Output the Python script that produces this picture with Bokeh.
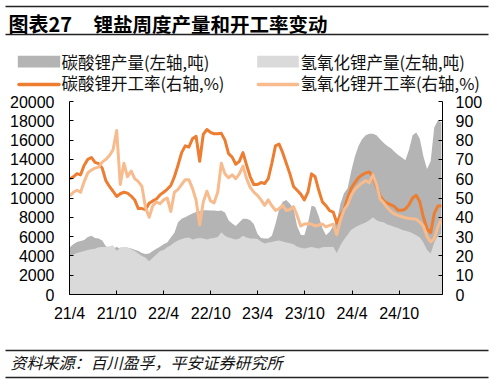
import pandas as pd
from bokeh.plotting import figure
from bokeh.models import Range1d, LinearAxis, FixedTicker
from bokeh.layouts import column
from bokeh.embed import file_html
from bokeh.resources import INLINE
from bokeh.core.properties import value

# ---------------- data (bi-weekly readings) ----------------
start_date = "2021-04-02"
step = "14D"

carb_prod = [4900, 5200, 5440, 5550, 5650, 5950, 6100, 5850, 5800, 5600,
             5000, 4850, 4760, 4930, 4760, 4900, 4850, 4760, 4650, 4500,
             4300, 4200, 4250, 4500, 4750, 4950, 5200, 5400, 5900, 6400,
             7500, 7850, 8000, 8210, 8400, 8550, 8650, 8730, 8730, 8700,
             8700, 8650, 8700, 8500, 7700, 7350, 7100, 7500, 7850, 7850,
             7700, 7300, 6300, 5850, 5800, 5800, 6100, 7300, 8800, 9600,
             9800, 9400, 8900, 7100, 6200, 6150, 7400, 9200, 9100, 8100,
             6900, 6140, 6500, 7100, 7600, 9400, 10500, 11000, 12800, 14300,
             15400, 16100, 16500, 16660, 16660, 16490, 16100, 15700, 15400, 15150,
             14800, 14450, 14200, 13900, 15000, 16500, 16800, 16150, 14300, 13000,
             13800, 17300, 18040, 17860]

hyd_prod = [3900, 4150, 4300, 4400, 4500, 4600, 4700, 4750, 4900, 4930,
            4930, 5000, 5100, 4500, 4900, 4930, 4900, 4700, 4500, 4250,
            4000, 3800, 3450, 3800, 4150, 4500, 4600, 4900, 5100, 5400,
            5600, 5750, 5850, 5900, 5700, 5800, 5850, 5800, 5700, 5800,
            5850, 5950, 6450, 6100, 5900, 5800, 5700, 5800, 6100, 5900,
            5800, 5800, 5750, 5500, 5280, 5400, 5450, 5550, 5600, 5500,
            5400, 5300, 5200, 4950, 4850, 4760, 4850, 4930, 4850, 4760,
            4900, 4930, 4930, 4950, 4300, 5100, 5700, 6200, 6700, 6950,
            7150, 7300, 7450, 7700, 8000, 7700, 7550, 7500, 7250, 7150,
            7000, 6900, 6700, 6600, 6500, 6350, 6150, 5900, 5400, 4600,
            4250, 5400, 6100, 6300]

carb_rate = [60, 61, 62.6, 62, 67, 70, 71, 68.5, 67.8, 65.5,
             59, 56, 53.5, 50.8, 52.2, 53, 52.5, 51, 49, 44.5,
             44.5, 44, 47.3, 48.5, 49.5, 51.6, 53, 54.5, 56.5, 61,
             67, 73.5, 77, 76.4, 80.7, 82, 69, 83, 85.5, 84,
             83.3, 83.3, 83.5, 80, 73, 71.2, 67.5, 69, 73.5, 67,
             61, 57, 57, 58, 57.5, 60, 68, 77, 78, 73.5,
             68, 62.5, 56, 54, 52, 49, 53, 62.5, 61, 54,
             48, 46, 43.5, 42.7, 37, 41, 44, 50, 55, 58,
             60.5, 62, 63, 63.5, 61, 56, 51, 48.5, 47.3, 46.5,
             45.5, 43.6, 43.6, 44.3, 46.5, 50, 51.4, 48, 40, 34,
             32, 42, 45.8, 46]

hyd_rate = [51, 53, 54, 53, 58.5, 63, 64.5, 65.5, 66, 68.6,
            70, 72, 75, 85, 57, 68, 61, 64, 60, 58.5,
            56, 45, 40, 46, 48, 47, 49, 50, 43, 53,
            54.5, 57, 59.5, 59.5, 55, 49, 36, 48, 53.5, 48.5,
            47.5, 53, 68, 62.5, 60.5, 62, 60, 62.5, 66.5, 60,
            55.5, 53, 51.4, 49, 46.2, 49, 46, 43.6, 44.5, 46.2,
            43.5, 44, 45.5, 41, 35.5, 36.5, 36.7, 36.5, 35.5, 36,
            36.5, 35, 35.8, 36.5, 31, 38.5, 43.8, 46.5, 51.4, 54.5,
            56.3, 57.8, 59, 58, 62, 57, 49.5, 47.5, 45, 43,
            41.7, 41, 40.3, 39.8, 39.4, 39.3, 39, 37.5, 35.5, 30,
            27.3, 29, 35, 39]

tick_labels = ["21/4", "21/10", "22/4", "22/10", "23/4", "23/10", "24/4", "24/10"]
left_ticks = [0, 2000, 4000, 6000, 8000, 10000, 12000, 14000, 16000, 18000, 20000]
right_ticks = [0, 10, 20, 30, 40, 50, 60, 70, 80, 90, 100]

legend_labels = ["碳酸锂产量(左轴,吨)", "氢氧化锂产量(左轴,吨)",
                 "碳酸锂开工率(右轴,%)", "氢氧化锂开工率(右轴,%)"]
title_head = "图表27"
title_text = "锂盐周度产量和开工率变动"
source_text = "资料来源：百川盈孚，平安证券研究所"

# ---------------- styles ----------------
C_DARK_GREY = "#B4B4B4"
C_LIGHT_GREY = "#DADADA"
C_ORANGE = "#ED7D31"
C_LIGHT_ORANGE = "#F7BB8E"
C_RULE = "#222222"
CJK = value("Noto Sans CJK SC")
NUM_FONT = "Liberation Sans"
W = 494

origin = pd.Timestamp("2021-04-01")
dates = pd.date_range(start_date, periods=len(carb_prod), freq=step)
xs = [(d - origin).days for d in dates]
tick_pos = []
for t in tick_labels:
    yy, mm = t.split("/")
    tick_pos.append((pd.Timestamp(2000 + int(yy), int(mm), 1) - origin).days)
x_end = xs[-1] + 4

# ---------------- header (title + legend) ----------------
HH = 95
h = figure(width=W, height=HH, x_range=Range1d(0, W), y_range=Range1d(HH, 0),
           output_backend="svg", toolbar_location=None, title=None,
           x_axis_type=None, y_axis_type=None, min_border=0, frame_align=False)
h.outline_line_color = None
h.segment(x0=[5, 5], y0=[6, 34], x1=[488, 488], y1=[6, 34], line_color=C_RULE, line_width=1.7)
h.text(x=[8], y=[22.5], text=[title_head], text_font=CJK, text_font_style="bold",
       text_font_size="20px", text_baseline="middle", text_color="#000000")
h.text(x=[93], y=[22.5], text=[title_text], text_font=CJK, text_font_style="bold",
       text_font_size="19.5px", text_baseline="middle", text_color="#000000")
h.quad(left=[17.3, 256.7], right=[59.7, 298.3], top=[55.3, 55.3], bottom=[67, 67],
       fill_color=[C_DARK_GREY, C_LIGHT_GREY], line_color=None)
h.segment(x0=[18.5], y0=[84], x1=[58.5], y1=[84], line_color=C_ORANGE, line_width=3.5, line_cap="round")
h.segment(x0=[257.9], y0=[84], x1=[297.1], y1=[84], line_color=C_LIGHT_ORANGE, line_width=3.5, line_cap="round")
h.text(x=[61, 300, 61, 300], y=[61.5, 61.5, 82.8, 82.8], text=legend_labels, text_font=CJK,
       text_font_size="16.5px", text_baseline="middle", text_color="#111111")

# ---------------- main chart ----------------
p = figure(width=W, height=235, output_backend="svg", toolbar_location=None, title=None,
           x_range=Range1d(0, x_end), y_range=Range1d(0, 20000), frame_align=False,
           min_border_left=69, min_border_right=52, min_border_top=6, min_border_bottom=36)
p.extra_y_ranges = {"rate": Range1d(0, 100)}
p.outline_line_color = None
p.xgrid.visible = False
p.ygrid.visible = False

p.varea(x=xs, y1=0, y2=carb_prod, fill_color=C_DARK_GREY)
p.varea(x=xs, y1=0, y2=hyd_prod, fill_color=C_LIGHT_GREY)
p.line(xs, carb_rate, y_range_name="rate", line_color=C_ORANGE, line_width=3, line_join="round")
p.line(xs, hyd_rate, y_range_name="rate", line_color=C_LIGHT_ORANGE, line_width=3, line_join="round")

left_axis = p.yaxis[0]
left_axis.ticker = FixedTicker(ticks=left_ticks)
right_axis = LinearAxis(y_range_name="rate", ticker=FixedTicker(ticks=right_ticks))
p.add_layout(right_axis, "right")

p.xaxis.ticker = FixedTicker(ticks=tick_pos)
p.xaxis.major_label_overrides = {k: v for k, v in zip(tick_pos, tick_labels)}

for ax in p.axis:
    ax.major_tick_in = 4
    ax.major_tick_out = 0
    ax.minor_tick_line_color = None
    ax.axis_line_color = "#000000"
    ax.major_tick_line_color = "#000000"
    ax.major_label_text_font = NUM_FONT
    ax.major_label_text_font_size = "16px"
    ax.major_label_text_color = "#000000"
p.xaxis.major_label_standoff = 10
left_axis.major_label_standoff = 15
right_axis.major_label_standoff = 13

# ---------------- footer (source) ----------------
FH = 49
f = figure(width=W, height=FH, x_range=Range1d(0, W), y_range=Range1d(FH, 0),
           output_backend="svg", toolbar_location=None, title=None,
           x_axis_type=None, y_axis_type=None, min_border=0, frame_align=False)
f.outline_line_color = None
f.segment(x0=[5, 5], y0=[20, 47], x1=[488, 488], y1=[20, 47], line_color=C_RULE, line_width=1.7)
f.text(x=[10], y=[31.7], text=[source_text], text_font=CJK, text_font_style="italic",
       text_font_size="16px", text_baseline="middle", text_color="#111111")

layout = column(h, p, f, spacing=0)
open("out.html", "w").write(file_html(layout, INLINE))
